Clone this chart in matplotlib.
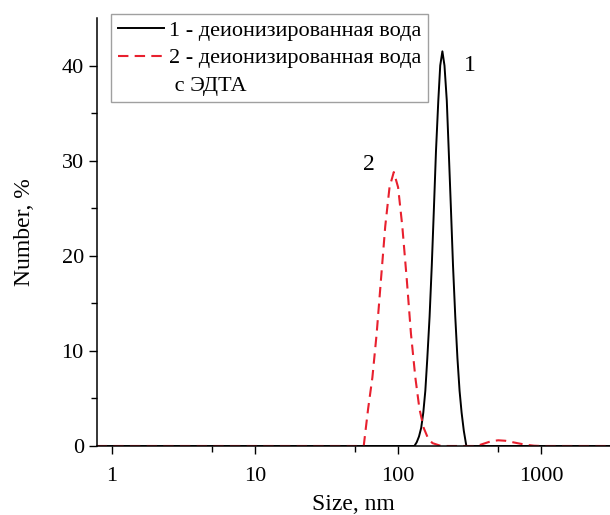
import matplotlib
matplotlib.use('Agg')
import matplotlib.pyplot as plt
from matplotlib.lines import Line2D
from matplotlib.ticker import FixedLocator, NullFormatter

plt.rcParams['font.family'] = ['Liberation Serif', 'DejaVu Serif']

# curve 1 - deionized water
size1 = [0.78, 1, 10, 100, 130, 135, 140, 145, 150, 155, 160, 166, 172, 178,
         184, 191, 197, 204, 211, 219, 226, 234, 242, 251, 260, 269, 278,
         288, 300, 1000, 3100]
num1 = [0, 0, 0, 0, 0, 0.4, 1.0, 1.9, 3.5, 5.8, 9.2, 13.6, 19.0, 25.0,
        31.0, 36.3, 40.0, 41.5, 40.0, 36.3, 31.0, 25.0, 19.0, 13.6, 9.2,
        5.8, 3.5, 1.6, 0, 0, 0]

# curve 2 - deionized water with EDTA
size2 = [0.78, 1, 10, 50, 57.5, 61.7, 66.1, 70.8, 75.9, 81.3, 87.1, 93.3,
         100, 107, 115, 123, 132, 141, 151, 162, 174, 200, 355, 398, 447,
         501, 562, 631, 708, 794, 891, 1000, 3100]
num2 = [0, 0, 0, 0, 0, 3.9, 7.2, 11.8, 17.5, 23.1, 27.2, 28.8,
        27.2, 23.1, 17.5, 11.8, 7.2, 3.9, 1.9, 0.8, 0.3, 0, 0, 0.25, 0.5,
        0.6, 0.55, 0.4, 0.25, 0.12, 0.03, 0, 0]

fig = plt.figure(figsize=(6.1, 5.15), dpi=100)
ax = fig.add_axes([0.159, 0.134, 0.841, 0.831])

ax.plot(size1, num1, color='black', lw=1.4)
ax.plot(size2, num2, color='#e8202e', lw=1.5, ls=(0, (5, 3)))

ax.set_xscale('log')
ax.set_xlim(0.785, 3030)
ax.set_ylim(0, 45)

ax.spines['top'].set_visible(False)
ax.spines['right'].set_visible(False)
ax.spines['left'].set_linewidth(1.1)
ax.spines['bottom'].set_linewidth(1.1)

ax.xaxis.set_major_locator(FixedLocator([1, 10, 100, 1000]))
ax.set_xticklabels(['1', '10', '100', '1000'])
ax.xaxis.set_minor_locator(FixedLocator([5, 50, 500]))
ax.xaxis.set_minor_formatter(NullFormatter())
ax.set_yticks([0, 10, 20, 30, 40])
ax.yaxis.set_minor_locator(FixedLocator([5, 15, 25, 35]))

ax.tick_params(axis='both', which='major', direction='out', length=6,
               width=1.0, labelsize=16)
ax.tick_params(axis='x', which='major', pad=9)
ax.tick_params(axis='both', which='minor', direction='out', length=4,
               width=1.0)

ax.set_xlabel('Size, nm', fontsize=17, labelpad=6)
ax.set_ylabel('Number, %', fontsize=17, labelpad=19)

ax.text(318, 40, '1', fontsize=17, ha='center', va='center')
ax.text(62, 29.6, '2', fontsize=17, ha='center', va='center')

handles = [Line2D([], [], color='black', lw=1.4),
           Line2D([], [], color='#e8202e', lw=1.5, ls=(0, (5, 3))),
           Line2D([], [], color='none')]
labels = ['1 - деионизированная вода',
          '2 - деионизированная вода',
          ' с ЭДТА']
leg = ax.legend(handles, labels, loc='upper left',
                bbox_to_anchor=(111 / 610, 1 - 14 / 515),
                bbox_transform=fig.transFigure, fontsize=16,
                frameon=True, fancybox=False, handlelength=2.1,
                handletextpad=0.2, borderpad=0.3, labelspacing=0.3,
                borderaxespad=0)
leg.get_frame().set_edgecolor('#888888')
leg.get_frame().set_linewidth(1.0)

fig.savefig('out.png', dpi=100)
